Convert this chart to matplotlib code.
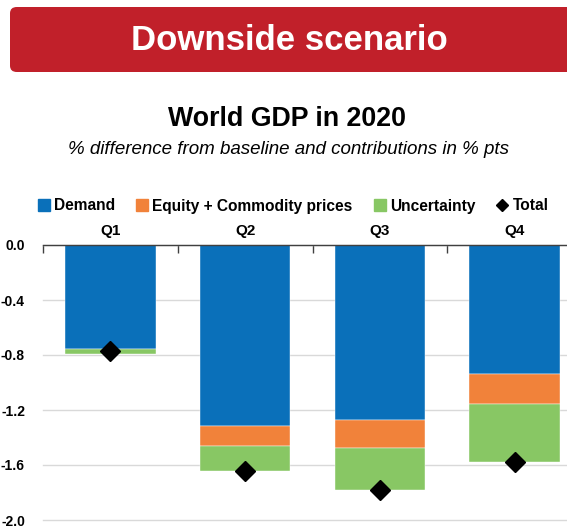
import matplotlib
matplotlib.use("Agg")
import matplotlib.pyplot as plt
from matplotlib.patches import FancyBboxPatch
from matplotlib.lines import Line2D
import numpy as np

quarters = ["Q1", "Q2", "Q3", "Q4"]
demand = [-0.756, -1.316, -1.27, -0.938]
equity = [0.01, -0.146, -0.206, -0.218]
uncertainty = [-0.034, -0.184, -0.304, -0.422]
total = [-0.77, -1.646, -1.78, -1.578]
yticks = [0.0, -0.4, -0.8, -1.2, -1.6, -2.0]

c_dem = "#0A70BA"
c_eq = "#F1823A"
c_unc = "#88C764"
c_red = "#C1202A"

FA = ["Liberation Sans", "DejaVu Sans"]

fig = plt.figure(figsize=(5.67, 5.28), dpi=100)

# red header box
box = FancyBboxPatch((10/567, 1-72/528), 600/567, 65/528,
                     boxstyle="round,pad=0,rounding_size=0.012",
                     transform=fig.transFigure, facecolor=c_red, edgecolor="none")
fig.patches.append(box)
fig.text(289/567, 1-40/528, "Downside scenario", color="white", fontsize=25,
         fontweight="bold", family=FA, ha="center", va="center")

fig.text(287/567, 1-119/528, "World GDP in 2020", fontsize=19.3, fontweight="bold",
         family=FA, ha="center", va="center")
fig.text(289/567, 1-149/528, "% difference from baseline and contributions in % pts",
         fontsize=13.5, style="italic", family=FA, ha="center", va="center")

ax = fig.add_axes([43/567, 1-520/528, 539/567, (520-245)/528])
x = np.arange(len(quarters))
w = 0.67

dem = np.array(demand)
eq = np.array(equity)
unc = np.array(uncertainty)

ax.bar(x, dem, w, color=c_dem, edgecolor="white", linewidth=0.3, zorder=2)
eq_bottom = np.where(eq >= 0, 0, dem)
ax.bar(x, eq, w, bottom=eq_bottom, color=c_eq, edgecolor="white", linewidth=0.3, zorder=2)
unc_bottom = dem + np.minimum(eq, 0)
ax.bar(x, unc, w, bottom=unc_bottom, color=c_unc, edgecolor="white", linewidth=0.3, zorder=2)
ax.plot(x, total, linestyle="none", marker="D", color="black", markersize=10, zorder=3)

ax.set_xlim(-0.5, 3.5)
ax.set_ylim(-2.0, 0.0)
ax.set_yticks(yticks)
ax.set_yticklabels(["%.1f" % v for v in yticks], fontweight="bold", family=FA, fontsize=10)
ax.tick_params(axis="y", length=0, pad=13)
ax.grid(axis="y", color="#D9D9D9", linewidth=1, zorder=0)
for gl in ax.get_ygridlines():
    gl.set_clip_on(False)

ax.xaxis.tick_top()
ax.set_xticks([-0.5, 0.5, 1.5, 2.5])
ax.set_xticklabels([])
ax.tick_params(axis="x", which="major", direction="in", length=6, color="#404040", width=1)
ax.set_xticks(x, minor=True)
ax.set_xticklabels(quarters, minor=True, fontweight="bold", family=FA, fontsize=11)
ax.tick_params(axis="x", which="minor", length=0, pad=5)

for s in ["left", "right", "bottom"]:
    ax.spines[s].set_visible(False)
ax.spines["top"].set_color("#404040")
ax.spines["top"].set_linewidth(1)
ax.spines["top"].set_zorder(4)
ax.set_axisbelow(True)

handles = [
    Line2D([], [], marker="s", linestyle="none", color=c_dem, markersize=9),
    Line2D([], [], marker="s", linestyle="none", color=c_eq, markersize=9),
    Line2D([], [], marker="s", linestyle="none", color=c_unc, markersize=9),
    Line2D([], [], marker="D", linestyle="none", color="black", markersize=6),
]
labels = ["Demand", "Equity + Commodity prices", "Uncertainty", "Total"]
leg = fig.legend(handles, labels, loc="center", bbox_to_anchor=(293/567, 1-206/528),
                 ncol=4, frameon=False, handletextpad=0.25, columnspacing=1.35,
                 handlelength=0.8, prop={"family": FA, "weight": "bold", "size": 11.2})

fig.savefig("out.png", dpi=100)
